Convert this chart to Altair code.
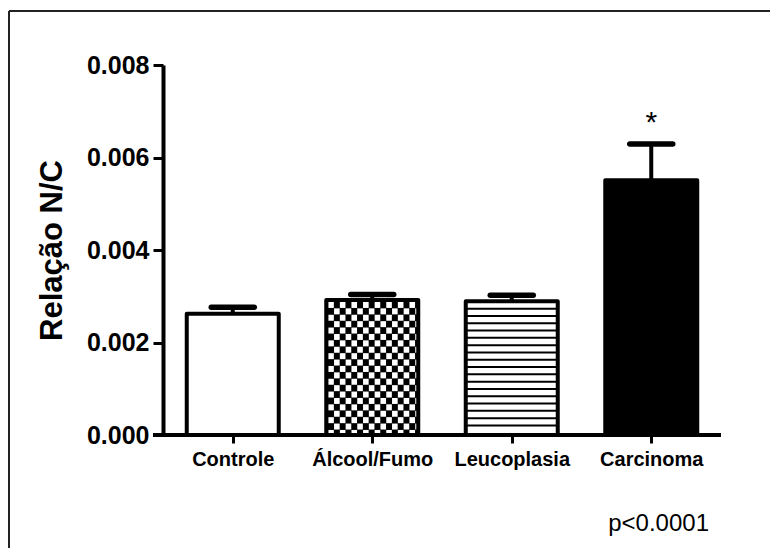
import json
import math
import altair as alt
import pandas as pd

# ---- data ----
categorias = ["Controle", "Álcool/Fumo", "Leucoplasia", "Carcinoma"]
medias = [0.00262, 0.00292, 0.00289, 0.00551]
erros = [0.00014, 0.00012, 0.00013, 0.00078]
padroes = ["branco", "xadrez", "listrado", "preto"]
asteriscos = ["", "", "", "*"]
y_ticks = [0.000, 0.002, 0.004, 0.006, 0.008]
titulo_y = "Relação N/C"
texto_p = "p<0.0001"

# ---- layout ----
W, H = 558, 370
YMAX = 0.008
XMIN, XMAX = -0.5, 3.5
ux = (XMAX - XMIN) / W      # x data units per pixel
uy = YMAX / H               # y data units per pixel
HALF = 46 * ux              # half bar width
CAP = 21.5 * ux             # half cap width
FONT = "Liberation Sans"

df = pd.DataFrame({
    "pos": list(range(len(categorias))),
    "cat": categorias,
    "m": medias,
    "e": erros,
    "padrao": padroes,
    "star": asteriscos,
})
df["x0"] = df["pos"] - HALF
df["x1"] = df["pos"] + HALF
df["c0"] = df["pos"] - CAP
df["c1"] = df["pos"] + CAP
df["top"] = df["m"] + df["e"]
df["zero"] = 0.0
df["cor"] = ["white" if p in ("branco", "listrado") else "black" for p in df["padrao"]]

# checkerboard: white squares on black (derived from the bar values)
cw, ch = 5.8 * ux, 6.4 * uy          # cell pitch
hw, hh = 5.6 * ux, 6.0 * uy          # white square size
holes = []
for _, r in df[df["padrao"] == "xadrez"].iterrows():
    x_start = r.x0 + 2.0 * ux
    ncol = math.ceil((r.x1 - x_start) / cw)
    nrow = math.ceil(r.m / ch)
    for i in range(nrow):
        for j in range(ncol):
            if (i + j) % 2 == 0:
                xa = x_start + j * cw
                xb = min(xa + hw, r.x1)
                ya = r.m - 2.0 * uy - i * ch
                yb = max(ya - hh, 0.0)
                if xb > xa and ya > 0:
                    holes.append({"x": xa, "x2": xb, "y": ya, "y2": yb})
holes_df = pd.DataFrame(holes)

# horizontal hatch lines (derived from the bar values)
hs = 7.3 * uy
lines = []
for _, r in df[df["padrao"] == "listrado"].iterrows():
    k = 1
    while r.m - k * hs > hs * 0.5:
        lines.append({"x": r.x0, "x2": r.x1, "y": r.m - k * hs})
        k += 1
lines_df = pd.DataFrame(lines)

xscale = alt.Scale(domain=[XMIN, XMAX], nice=False, zero=False)
yscale = alt.Scale(domain=[0, YMAX], nice=False)

label_expr = json.dumps(categorias, ensure_ascii=False) + "[datum.value]"
xaxis = alt.Axis(
    values=list(range(len(categorias))), labelExpr=label_expr, title=None,
    domain=False, grid=False, tickSize=8, tickWidth=3, tickColor="black",
    labelFont=FONT, labelFontSize=20, labelFontWeight="bold", labelColor="black",
    labelPadding=6, labelFlush=False, labelOverlap=False,
)
yaxis = alt.Axis(
    values=y_ticks, format=".3f", title=titulo_y, grid=False,
    domainWidth=4, domainColor="black", tickSize=10, tickWidth=3, tickColor="black",
    labelFont=FONT, labelFontSize=25, labelFontWeight="bold", labelColor="black",
    labelPadding=4, titleFont=FONT, titleFontSize=31, titleFontWeight="bold",
    titleColor="black", titlePadding=18,
)


def X(f):
    return alt.X(f, scale=xscale, axis=xaxis)


def Y(f):
    return alt.Y(f, scale=yscale, axis=yaxis)


base = alt.Chart(df)

stems = base.mark_rule(color="black", strokeWidth=4).encode(
    x=X("pos:Q"), y=Y("m:Q"), y2="top:Q")
caps = base.mark_rule(color="black", strokeWidth=5.5, strokeCap="round").encode(
    x=X("c0:Q"), x2="c1:Q", y=Y("top:Q"))
fills = base.mark_rect(strokeWidth=0).encode(
    x=X("x0:Q"), x2="x1:Q", y=Y("m:Q"), y2="zero:Q",
    fill=alt.Fill("cor:N", scale=None))
checker = alt.Chart(holes_df).mark_rect(fill="white", strokeWidth=0).encode(
    x=X("x:Q"), x2="x2:Q", y=Y("y:Q"), y2="y2:Q")
hatch = alt.Chart(lines_df).mark_rule(color="black", strokeWidth=2).encode(
    x=X("x:Q"), x2="x2:Q", y=Y("y:Q"))
outlines = base.mark_rect(fillOpacity=0, stroke="black", strokeWidth=4,
                          strokeJoin="round").encode(
    x=X("x0:Q"), x2="x1:Q", y=Y("m:Q"), y2="zero:Q")
stars = base.mark_text(font=FONT, fontSize=30, color="black", dy=-12,
                       baseline="alphabetic").encode(
    x=X("pos:Q"), y=Y("top:Q"), text="star:N")

one = alt.Chart(pd.DataFrame({"t": [texto_p]}))
ptext = one.mark_text(font=FONT, fontSize=24, color="black", align="right",
                      baseline="alphabetic").encode(
    x=alt.value(546), y=alt.value(466), text="t:N")
xline = one.mark_rule(color="black", strokeWidth=4).encode(
    x=alt.value(-10), x2=alt.value(W), y=alt.value(H))
frame_left = one.mark_rule(color="#222222", strokeWidth=2).encode(
    x=alt.value(-154), y=alt.value(-54), y2=alt.value(600))
frame_top = one.mark_rule(color="#222222", strokeWidth=2).encode(
    x=alt.value(-154), x2=alt.value(700), y=alt.value(-54))

chart = alt.layer(
    frame_left, frame_top, stems, caps, fills, checker, hatch, outlines, xline,
    stars, ptext,
).properties(
    width=W, height=H,
    background="white",
    autosize=alt.AutoSizeParams(type="none"),
    padding={"left": 155, "top": 57, "right": 49, "bottom": 113},
).configure_view(stroke=None)

chart.save("out.html", embed_options={"renderer": "svg", "actions": False})
